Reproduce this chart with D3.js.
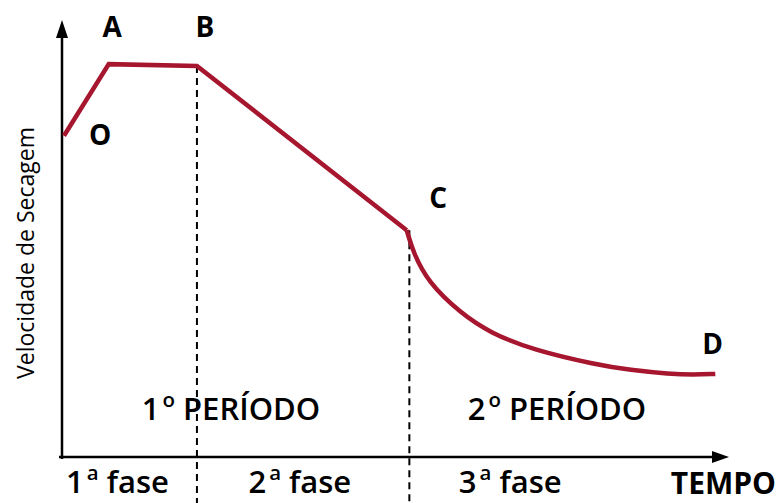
<!DOCTYPE html>
<html><head><meta charset="utf-8">
<script src="https://cdn.jsdelivr.net/npm/d3@7"></script>
<style>body{margin:0;background:#fff}svg{display:block}text{font-family:"Open Sans",sans-serif;fill:#000}</style>
</head><body><svg id="c" width="781" height="503"></svg>
<script>
// first period: O -> A -> B -> C (straight segments)
const firstPeriodT = [0.3, 7.0, 20.2, 51.6];
const firstPeriodV = [73.5, 89.9, 89.5, 51.9];
// second period: falling rate curve C -> D
const secondPeriodT = [51.6, 52.6, 54.8, 59.6, 64.1, 70.5, 80.1, 85.0, 91.0, 94.5, 97.8];
const secondPeriodV = [51.9, 46.7, 40.0, 33.0, 28.4, 24.5, 21.1, 19.9, 19.0, 18.8, 19.0];
// point labels
const pointNames = ["O", "A", "B", "C", "D"];
const pointT = [5.7, 7.5, 21.4, 56.3, 97.4];
const pointV = [71.3, 96.1, 96.1, 56.9, 23.6];
// phase boundaries (dashed)
const boundaryT = [20.2, 52.0];
const boundaryV = [89.5, 51.9];
const periodNames = [["1","o"," PERÍODO"], ["2","o"," PERÍODO"]];
const periodT = [25.3, 74.1];
const phaseNames = [["1","a"," fase"], ["2","a"," fase"], ["3","a"," fase"]];
const phaseT = [8.3, 35.6, 67.1];

const svg = d3.select("#c");
const x = d3.scaleLinear().domain([0, 100]).range([62, 730]);
const y = d3.scaleLinear().domain([0, 100]).range([457, 20]);
const red = "#a6162e";

// axes
svg.append("line").attr("x1", x(0)).attr("x2", x(0)).attr("y1", y(0)+2).attr("y2", y(100)+12)
  .attr("stroke", "#000").attr("stroke-width", 2.5);
svg.append("path").attr("d", `M${x(0)},${y(100)} L${x(0)-6},${y(100)+18} L${x(0)+6},${y(100)+18} Z`).attr("fill", "#000");
svg.append("line").attr("x1", x(0)-3).attr("x2", x(100)-10).attr("y1", y(0)).attr("y2", y(0))
  .attr("stroke", "#000").attr("stroke-width", 2.5);
svg.append("path").attr("d", `M${x(100)-1},${y(0)} L${x(100)-18},${y(0)-6} L${x(100)-18},${y(0)+6} Z`).attr("fill", "#000");

// dashed boundaries
boundaryT.forEach((t, i) => {
  svg.append("line").attr("x1", x(t)).attr("x2", x(t)).attr("y1", y(boundaryV[i])).attr("y2", 503)
    .attr("stroke", "#000").attr("stroke-width", 2).attr("stroke-dasharray", "7,5");
});

// curve
const p1 = firstPeriodT.map((t, i) => [t, firstPeriodV[i]]);
const p2 = secondPeriodT.map((t, i) => [t, secondPeriodV[i]]);
svg.append("path").attr("d", d3.line().x(d => x(d[0])).y(d => y(d[1]))(p1))
  .attr("fill", "none").attr("stroke", red).attr("stroke-width", 4.5).attr("stroke-linejoin", "miter");
svg.append("path").attr("d", d3.line().curve(d3.curveBasis).x(d => x(d[0])).y(d => y(d[1]))(p2))
  .attr("fill", "none").attr("stroke", red).attr("stroke-width", 4.5);

// point labels
pointNames.forEach((n, i) => {
  svg.append("text").attr("x", x(pointT[i])).attr("y", y(pointV[i])).attr("text-anchor", "middle")
    .attr("font-size", 28).attr("font-weight", 700).text(n);
});

function ordinal(parts, cx, cy, size, weight, sup) {
  const t = svg.append("text").attr("x", cx).attr("y", cy).attr("text-anchor", "middle")
    .attr("font-size", size).attr("font-weight", weight);
  t.append("tspan").text(parts[0]);
  t.append("tspan").attr("dy", -sup).attr("font-size", size*0.66).attr("dx", 3).text(parts[1]);
  t.append("tspan").attr("dy", sup).text(parts[2]);
}
periodNames.forEach((p, i) => ordinal(p, x(periodT[i]), 420, 31, 600, 13));
phaseNames.forEach((p, i) => ordinal(p, x(phaseT[i]), 493, 31, 600, 13));
svg.append("text").attr("x", 776).attr("y", 494).attr("text-anchor", "end")
  .attr("font-size", 30).attr("font-weight", 700).text("TEMPO");

svg.append("text").attr("transform", "translate(34,253) rotate(-90)").attr("text-anchor", "middle")
  .attr("font-size", 23).text("Velocidade de Secagem");
</script></body></html>
